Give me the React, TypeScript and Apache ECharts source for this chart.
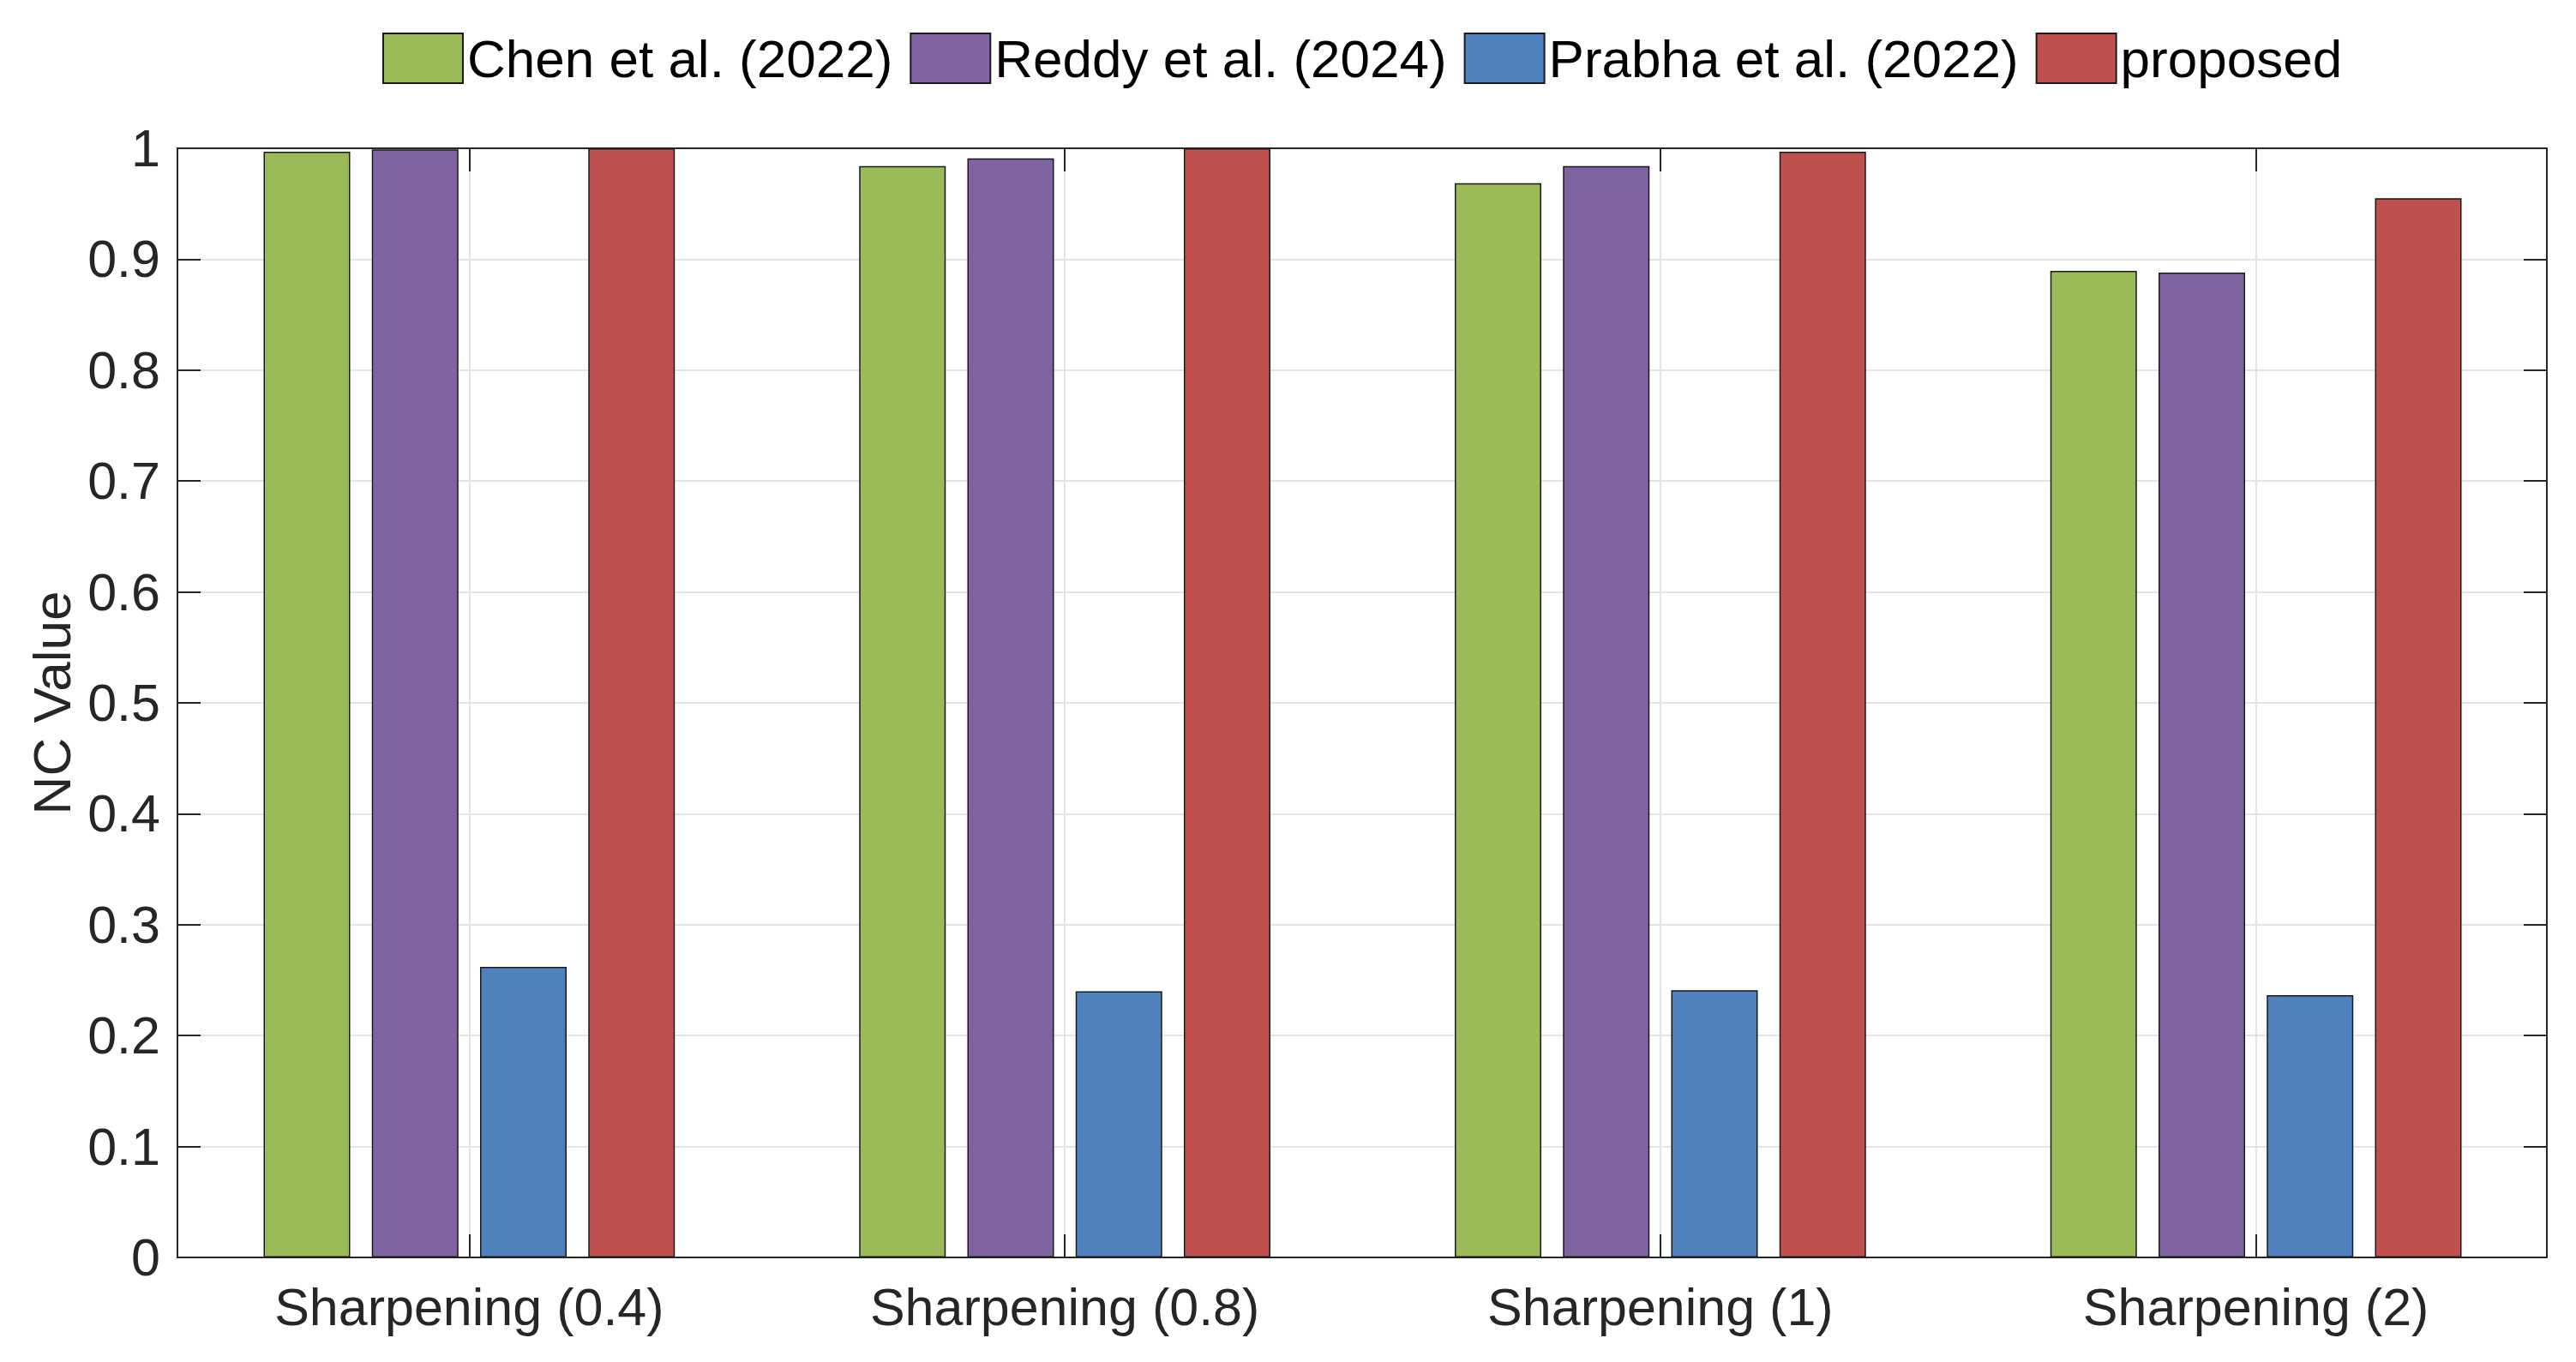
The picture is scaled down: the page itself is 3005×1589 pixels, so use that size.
import React, { useEffect, useRef } from "react";
import * as echarts from "echarts";

const categories = ["Sharpening (0.4)", "Sharpening (0.8)", "Sharpening (1)", "Sharpening (2)"];
const seriesNames = ["Chen et al. (2022)", "Reddy et al. (2024)", "Prabha et al. (2022)", "proposed"];
const chenValues = [0.997, 0.984, 0.9685, 0.8895];
const reddyValues = [0.999, 0.991, 0.984, 0.888];
const prabhaValues = [0.262, 0.24, 0.241, 0.2365];
const proposedValues = [1.0, 1.0, 0.997, 0.955];
const seriesColors = ["#9BBB59", "#8064A2", "#4F81BD", "#C0504D"];
const yMin = 0;
const yMax = 1;
const yInterval = 0.1;
const yAxisTitle = "NC Value";

const FONT = "'Liberation Sans', Arial, Helvetica, sans-serif";
const AXIS_COLOR = "#262626";
const GRID_COLOR = "#e4e4e4";

function tick(alignWithLabel: boolean) {
  return {
    show: true,
    inside: true,
    length: 27,
    alignWithLabel,
    lineStyle: { color: AXIS_COLOR, width: 2 },
  };
}

function frameLine() {
  return { show: true, onZero: false, lineStyle: { color: AXIS_COLOR, width: 2 } };
}

export default function App() {
  const ref = useRef<HTMLDivElement>(null);

  useEffect(() => {
    if (!ref.current) return;
    const chart = echarts.init(ref.current, undefined, { renderer: "svg" });
    const allValues = [chenValues, reddyValues, prabhaValues, proposedValues];

    chart.setOption({
      animation: false,
      backgroundColor: "#ffffff",
      textStyle: { fontFamily: FONT },
      legend: {
        left: 446,
        top: 37,
        itemWidth: 93,
        itemHeight: 58,
        itemGap: 20,
        padding: 0,
        icon: "rect",
        textStyle: { fontSize: 62, color: "#000000", fontFamily: FONT },
        data: seriesNames,
      },
      grid: [
        // frame grid (axes box, y ticks, horizontal grid lines)
        { left: 207, right: 34, top: 173, bottom: 122, containLabel: false },
        // bar grid (category bands slightly wider than the frame, like MATLAB's xlim)
        { left: 200, right: 26, top: 173, bottom: 122, containLabel: false },
      ],
      xAxis: [
        {
          gridIndex: 0,
          type: "value",
          min: 0,
          max: 1,
          position: "bottom",
          axisLine: frameLine(),
          axisTick: { show: false },
          axisLabel: { show: false },
          splitLine: { show: false },
        },
        {
          gridIndex: 0,
          type: "value",
          min: 0,
          max: 1,
          position: "top",
          axisLine: frameLine(),
          axisTick: { show: false },
          axisLabel: { show: false },
          splitLine: { show: false },
        },
        {
          gridIndex: 1,
          type: "category",
          data: categories,
          position: "bottom",
          boundaryGap: true,
          axisLine: { show: false, onZero: false },
          axisTick: tick(true),
          axisLabel: { fontSize: 61, color: AXIS_COLOR, margin: 27, fontFamily: FONT },
          splitLine: { show: true, alignWithLabel: true, lineStyle: { color: GRID_COLOR, width: 2 } },
        },
        {
          gridIndex: 1,
          type: "category",
          data: categories,
          position: "top",
          boundaryGap: true,
          axisLine: { show: false, onZero: false },
          axisTick: tick(true),
          axisLabel: { show: false },
          splitLine: { show: false },
        },
      ],
      yAxis: [
        {
          gridIndex: 0,
          type: "value",
          min: yMin,
          max: yMax,
          interval: yInterval,
          position: "left",
          name: yAxisTitle,
          nameLocation: "middle",
          nameGap: 115,
          nameTextStyle: { fontSize: 62, color: AXIS_COLOR, fontFamily: FONT },
          axisLine: frameLine(),
          axisTick: tick(false),
          axisLabel: { fontSize: 61, color: AXIS_COLOR, margin: 20, fontFamily: FONT },
          splitLine: { show: true, lineStyle: { color: GRID_COLOR, width: 2 } },
        },
        {
          gridIndex: 0,
          type: "value",
          min: yMin,
          max: yMax,
          interval: yInterval,
          position: "right",
          axisLine: frameLine(),
          axisTick: tick(false),
          axisLabel: { show: false },
          splitLine: { show: false },
        },
        {
          gridIndex: 1,
          type: "value",
          min: yMin,
          max: yMax,
          interval: yInterval,
          show: false,
          splitLine: { show: false },
        },
      ],
      series: seriesNames.map((name, i) => ({
        name,
        type: "bar",
        xAxisIndex: 2,
        yAxisIndex: 2,
        data: allValues[i],
        barWidth: 101,
        barGap: "25%",
        itemStyle: { color: seriesColors[i], borderColor: "#1a1a1a", borderWidth: 1.5 },
        emphasis: { disabled: true },
      })),
    });

    return () => chart.dispose();
  }, []);

  return (
    <div
      ref={ref}
      style={{ position: "absolute", left: 0, top: 0, width: 3005, height: 1589, background: "#fff" }}
    />
  );
}
